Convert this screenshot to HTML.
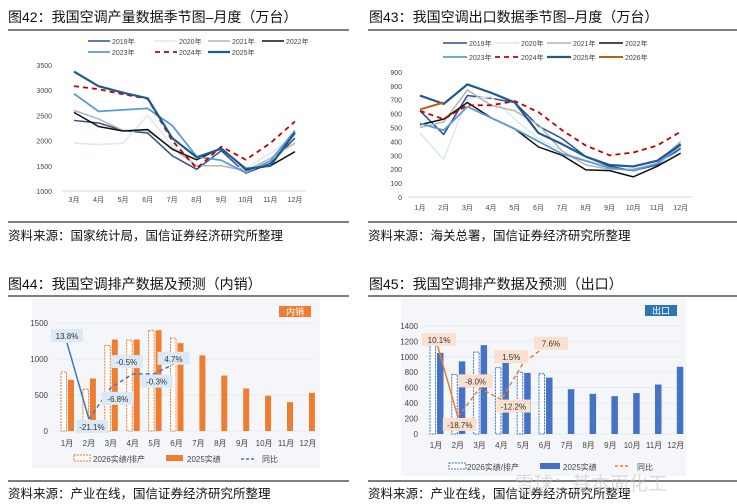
<!DOCTYPE html>
<html><head><meta charset="utf-8"><style>
body{margin:0;background:#fff;width:737px;height:504px;overflow:hidden;font-family:"Liberation Sans","Noto Sans CJK SC",sans-serif}
svg{display:block}
</style></head><body>
<svg id="s" width="737" height="504" xmlns="http://www.w3.org/2000/svg" font-family="Liberation Sans, Noto Sans CJK SC, sans-serif"></svg>
<script>
// ---- Chart 42 data (3月..12月)
const c42Months=['3月','4月','5月','6月','7月','8月','9月','10月','11月','12月'];
const c42Ticks=[1000,1500,2000,2500,3000,3500];
const c42y2019=[2400,2350,2200,2150,1700,1430,1800,1350,1550,2050];
const c42y2020=[1950,1920,1950,2500,1900,1500,1500,1450,1750,2100];
const c42y2021=[2600,2430,2200,2200,1850,1500,1500,1400,1650,1950];
const c42y2022=[2560,2280,2190,2220,1830,1620,1850,1420,1500,1780];
const c42y2023=[2930,2580,2610,2640,2300,1680,1610,1360,1600,2200];
const c42y2024=[3080,3020,2920,2830,2000,1450,1880,1620,1950,2380];
const c42y2025=[3370,3080,2950,2840,2050,1670,1840,1440,1500,2160];
// ---- Chart 43 data (1月..12月)
const c43Months=['1月','2月','3月','4月','5月','6月','7月','8月','9月','10月','11月','12月'];
const c43Ticks=[0,100,200,300,400,500,600,700,800,900];
const c43y2019=[620,450,730,710,680,510,420,290,220,190,230,350];
const c43y2020=[460,270,710,720,560,420,330,260,200,200,240,330];
const c43y2021=[500,540,770,660,620,520,330,230,200,200,240,400];
const c43y2022=[520,560,680,570,490,360,300,195,190,145,220,315];
const c43y2023=[530,480,650,570,490,400,310,260,210,190,240,370];
const c43y2024=[620,560,660,660,690,610,480,370,300,320,370,470];
const c43y2025=[730,670,810,750,680,460,380,290,230,220,260,380];
const c43y2026=[630,680];
// ---- Chart 44 data
const c44Ticks=[0,500,1000,1500];
const c44v2026=[820,580,1190,1260,1400,1290];
const c44v2025=[710,730,1270,1270,1400,1220,1050,770,590,490,400,530];
const c44yoy=[13.8,-21.1,-6.8,-0.5,-0.3,4.7];
const c44yoyLabels=['13.8%','-21.1%','-6.8%','-0.5%','-0.3%','4.7%'];
// ---- Chart 45 data
const c45Ticks=[0,200,400,600,800,1000,1200,1400];
const c45v2026=[1150,770,1060,860,800,780];
const c45v2025=[1050,940,1150,920,790,730,580,520,490,530,640,870];
const c45yoy=[10.1,-18.7,-8.0,-12.2,1.5,7.6];
const c45yoyLabels=['10.1%','-18.7%','-8.0%','-12.2%','1.5%','7.6%'];

const S=document.getElementById('s');const NS='http://www.w3.org/2000/svg';
function el(t,a,txt){const e=document.createElementNS(NS,t);for(const k in a)e.setAttribute(k,a[k]);if(txt!==undefined)e.textContent=txt;S.appendChild(e);return e;}
function tx(x,y,s,size,anchor,fill,name,weight){const e=el('text',{x:x,y:y,'font-size':size,'text-anchor':anchor||'start',fill:fill||'#222','font-weight':weight||'normal'},s);

return e;}
function ln(x1,y1,x2,y2,st,w,name,dash){const e=el('line',{x1,y1,x2,y2,stroke:st,'stroke-width':w});if(dash)e.setAttribute('stroke-dasharray',dash);

return e;}
function poly(pts,st,w,name,dash){const e=el('polyline',{points:pts.map(p=>p.join(',')).join(' '),fill:'none',stroke:st,'stroke-width':w,'stroke-linejoin':'round'});if(dash)e.setAttribute('stroke-dasharray',dash);

return e;}
function rect(x,y,w,h,f,name,st,dash){const e=el('rect',{x,y,width:w,height:h,fill:f});if(st){e.setAttribute('stroke',st);e.setAttribute('stroke-width',1);}if(dash)e.setAttribute('stroke-dasharray',dash);

return e;}

// frames
tx(8,22,'图42：我国空调产量数据季节图–月度（万台）',14,'start','#111','title-42');
tx(369,22,'图43：我国空调出口数据季节图–月度（万台）',14,'start','#111','title-43');
ln(8,30,349,30,'#555',1.5,'rule-top-42');ln(368,30,737,30,'#555',1.5,'rule-top-43');
ln(8,222,349,222,'#555',1.5,'rule-bottom-42');ln(368,222,737,222,'#555',1.5,'rule-bottom-43');
tx(8,240,'资料来源：国家统计局，国信证券经济研究所整理',12.5,'start','#111','source-42');
tx(368,240,'资料来源：海关总署，国信证券经济研究所整理',12.5,'start','#111','source-43');
tx(8,289,'图44：我国空调排产数据及预测（内销）',14,'start','#111','title-44');
tx(369,289,'图45：我国空调排产数据及预测（出口）',14,'start','#111','title-45');
ln(8,296,349,296,'#555',1.5,'rule-top-44');ln(368,296,737,296,'#555',1.5,'rule-top-45');
ln(8,481,349,481,'#555',1.5,'rule-bottom-44');ln(368,481,737,481,'#555',1.5,'rule-bottom-45');
tx(8,498,'资料来源：产业在线，国信证券经济研究所整理',12.5,'start','#111','source-44');
tx(368,498,'资料来源：产业在线，国信证券经济研究所整理',12.5,'start','#111','source-45');

// ---- Chart 42
(function(){
 const x=i=>74+i*24.55, y=v=>191-(v-1000)*25.2/500;
 c42Ticks.forEach(t=>tx(52,y(t)+3,String(t),7,'end','#444','y-tick-42'));
 ln(62,191,306,191,'#d9d9d9',1,'x-axis-42');
 c42Months.forEach((m,i)=>tx(x(i),202,m,7,'middle','#444','x-tick-42'));
 const ser=[[c42y2019,'#2e4d8f',1.5,'2019年'],[c42y2020,'#dbe7f3',1.5,'2020年'],[c42y2021,'#b4b4b4',1.5,'2021年'],[c42y2022,'#111',1.5,'2022年'],[c42y2023,'#5b9bd5',1.8,'2023年'],[c42y2024,'#c00000',1.8,'2024年','5,4'],[c42y2025,'#1f5a8c',2.2,'2025年']];
 ser.forEach(s=>poly(s[0].map((v,i)=>[x(i),y(v)]),s[1],s[2],'line-'+s[3].slice(0,4)+'-42',s[4]));
 const lp=[[88,41],[155,41],[208,41],[262,41],[88,52],[155,52],[208,52]];
 ser.forEach((s,i)=>{const [lx,ly]=lp[i];ln(lx,ly,lx+22,ly,s[1],s[2],'legend-line-42',s[4]);tx(lx+24,ly+3,s[3],7,'start','#444','legend-label-42');});
})();
// ---- Chart 43
(function(){
 const x=i=>420+i*23.7, y=v=>197-v*13.9/100;
 c43Ticks.forEach(t=>tx(402,y(t)+3,String(t),7,'end','#444','y-tick-43'));
 ln(408,197,692,197,'#d9d9d9',1,'x-axis-43');
 c43Months.forEach((m,i)=>tx(x(i),210,m,7,'middle','#444','x-tick-43'));
 const ser=[[c43y2019,'#2e4d8f',1.5,'2019年'],[c43y2020,'#dbe7f3',1.5,'2020年'],[c43y2021,'#b4b4b4',1.5,'2021年'],[c43y2022,'#111',1.5,'2022年'],[c43y2023,'#5b9bd5',1.8,'2023年'],[c43y2024,'#c00000',1.8,'2024年','5,4'],[c43y2025,'#1f5a8c',2.2,'2025年'],[c43y2026,'#c55a11',2,'2026年']];
 ser.forEach(s=>poly(s[0].map((v,i)=>[x(i),y(v)]),s[1],s[2],'line-'+s[3].slice(0,4)+'-43',s[4]));
 const lp=[[443,43],[495,43],[547,43],[599,43],[443,57],[495,57],[547,57],[599,57]];
 ser.forEach((s,i)=>{const [lx,ly]=lp[i];ln(lx,ly,lx+24,ly,s[1],s[2],'legend-line-43',s[4]);tx(lx+26,ly+3,s[3],7,'start','#444','legend-label-43');});
})();
// ---- Chart 44
(function(){
 rect(32,298,288,170,'#f4f6f9','panel-44');
 const x=i=>67+i*21.9, y=v=>431-v*36/500, yy=v=>373-v*2.18;
 c44Ticks.forEach(t=>{tx(48,y(t)+3,String(t),8,'end','#444','y-tick-44');ln(55,y(t),315,y(t),'#e3e6ea',0.7,'gridline-44');});
 c44v2025.forEach((v,i)=>tx(x(i),446,(i+1)+'月',8,'middle','#444','x-tick-44'));
 c44v2026.forEach((v,i)=>rect(x(i)-6,y(v),5.5,431-y(v),'#fff','bar-2026-44','#ed7d31','2,1'));
 c44v2025.forEach((v,i)=>rect(x(i)+1,y(v),6,431-y(v),'#ed7d31','bar-2025-44'));
 poly(c44yoy.slice(0,2).map((v,i)=>[x(i),yy(v)]),'#4472c4',1.5,'yoy-line-solid-44');
 poly(c44yoy.slice(1).map((v,i)=>[x(i+1),yy(v)]),'#4472c4',1.5,'yoy-line-dashed-44','4,3');
 const off=[[0,-7],[3,8],[7,11],[-6,-12],[2,8],[-3,-4]];
 c44yoy.forEach((v,i)=>{const cx=x(i)+off[i][0],cy=yy(v)+off[i][1];rect(cx-16,cy-7,32,13,'#dbe8f5','yoy-label-box-44');tx(cx,cy+3,c44yoyLabels[i],8,'middle','#333','yoy-label-44');});
 rect(279,306,32,11,'#ed7d31','badge-neixiao');tx(295,315,'内销',9,'middle','#fff','badge-text-44');
 rect(74,455,16,6,'#fff','legend-2026-44','#ed7d31','2,1');tx(93,462,'2026实绩/排产',8,'start','#444','legend-label-44');
 rect(166,455,17,6,'#ed7d31','legend-2025-44');tx(187,462,'2025实绩',8,'start','#444','legend-label-44');
 ln(241,459,256,459,'#4472c4',1.5,'legend-yoy-44','3,2');tx(262,462,'同比',8,'start','#444','legend-label-44');
})();
// ---- Chart 45
(function(){
 rect(401,298,285,178,'#f4f6f9','panel-45');
 const x=i=>436+i*21.8, y=v=>434-v*15.45/200, yy=v=>367-v*2.67;
 c45Ticks.forEach(t=>{tx(418,y(t)+3,String(t),8,'end','#444','y-tick-45');ln(425,y(t),683,y(t),'#e3e6ea',0.7,'gridline-45');});
 c45v2025.forEach((v,i)=>tx(x(i),448,(i+1)+'月',8,'middle','#444','x-tick-45'));
 c45v2026.forEach((v,i)=>rect(x(i)-6,y(v),5.5,434-y(v),'#fff','bar-2026-45','#4472c4','2,1'));
 c45v2025.forEach((v,i)=>rect(x(i)+1,y(v),6.5,434-y(v),'#4472c4','bar-2025-45'));
 poly(c45yoy.slice(0,2).map((v,i)=>[x(i),yy(v)]),'#ed7d31',1.5,'yoy-line-solid-45');
 poly(c45yoy.slice(1).map((v,i)=>[x(i+1),yy(v)]),'#ed7d31',1.5,'yoy-line-dashed-45','4,3');
 const off=[[3,0],[2,8],[-4,-7],[12,7],[-12,-6],[6,-3]];
 c45yoy.forEach((v,i)=>{const cx=x(i)+off[i][0],cy=yy(v)+off[i][1];rect(cx-17,cy-7,34,13,'#fbe0cf','yoy-label-box-45');tx(cx,cy+3,c45yoyLabels[i],8,'middle','#333','yoy-label-45');});
 rect(645,305,32,11,'#2e75b6','badge-chukou');tx(661,314,'出口',9,'middle','#fff','badge-text-45');
 rect(449,463,17,6,'#fff','legend-2026-45','#4472c4','2,1');tx(467,470,'2026实绩/排产',8,'start','#444','legend-label-45');
 rect(540,463,20,6,'#4472c4','legend-2025-45');tx(563,470,'2025实绩',8,'start','#444','legend-label-45');
 ln(615,466,630,466,'#ed7d31',1.5,'legend-yoy-45','3,2');tx(637,470,'同比',8,'start','#444','legend-label-45');
 tx(515,490,'雪球：基本面化工',19,'start','rgba(190,190,190,0.55)','watermark');
})();
</script>
</body></html>
